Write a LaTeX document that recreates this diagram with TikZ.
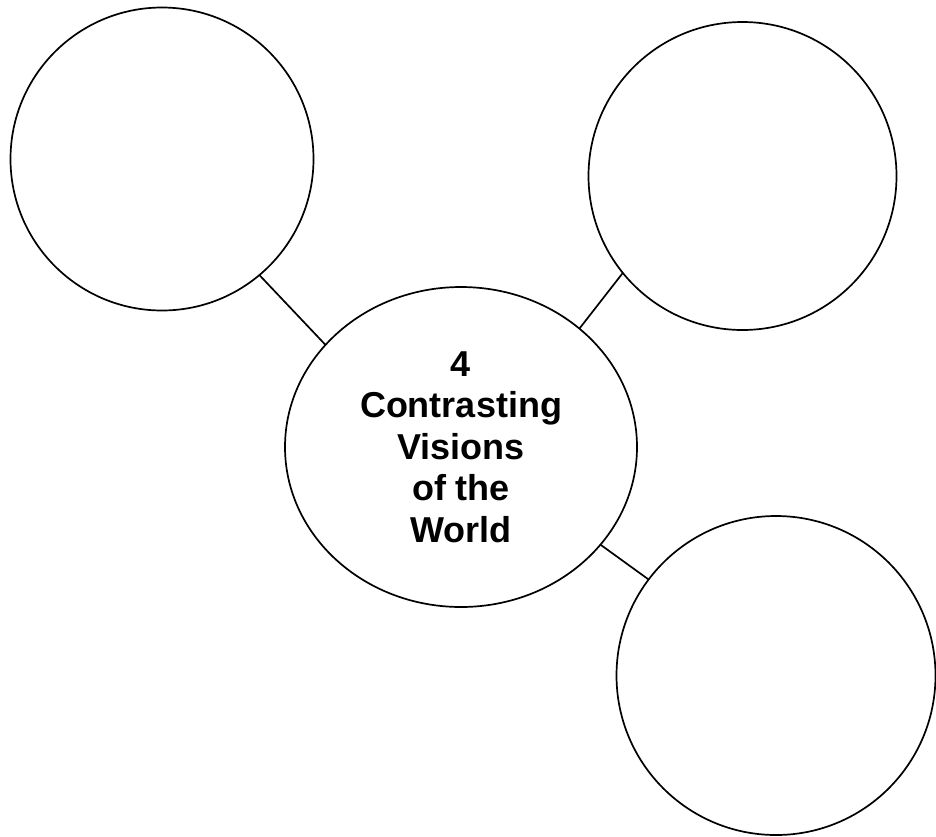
\documentclass[tikz,border=0pt]{standalone}
\usepackage{fontspec}
\setmainfont{Liberation Sans}
\usetikzlibrary{shapes.geometric}

\begin{document}
\begin{tikzpicture}[
      x=1pt, y=-1pt,
      bubble/.style={draw, circle, line width=1.7pt, outer sep=0pt, inner sep=0pt},
      hub/.style={draw, ellipse, line width=1.7pt, outer sep=0pt,
                  minimum width=352pt, minimum height=320pt, align=center,
                  font=\fontsize{36}{41.4}\selectfont\bfseries},
      link/.style={line width=1.7pt}
    ]
    \useasboundingbox (0,0) rectangle (936,836);
    \node[hub] (vision) at (461,447) {4\\Contrasting\\Visions\\of the\\World};
    \node[bubble, minimum size=303pt] (first)  at (162,159)   {};
    \node[bubble, minimum size=308pt] (second) at (742.5,176) {};
    \node[bubble, minimum size=319pt] (third)  at (776,675.5) {};

    \draw[link] (first.-50.6)  -- (vision.143);
    \draw[link] (second.219.4) -- (vision.45.7);
    \draw[link] (vision.-35.6) -- (third.143.8);
  \end{tikzpicture}
\end{document}
